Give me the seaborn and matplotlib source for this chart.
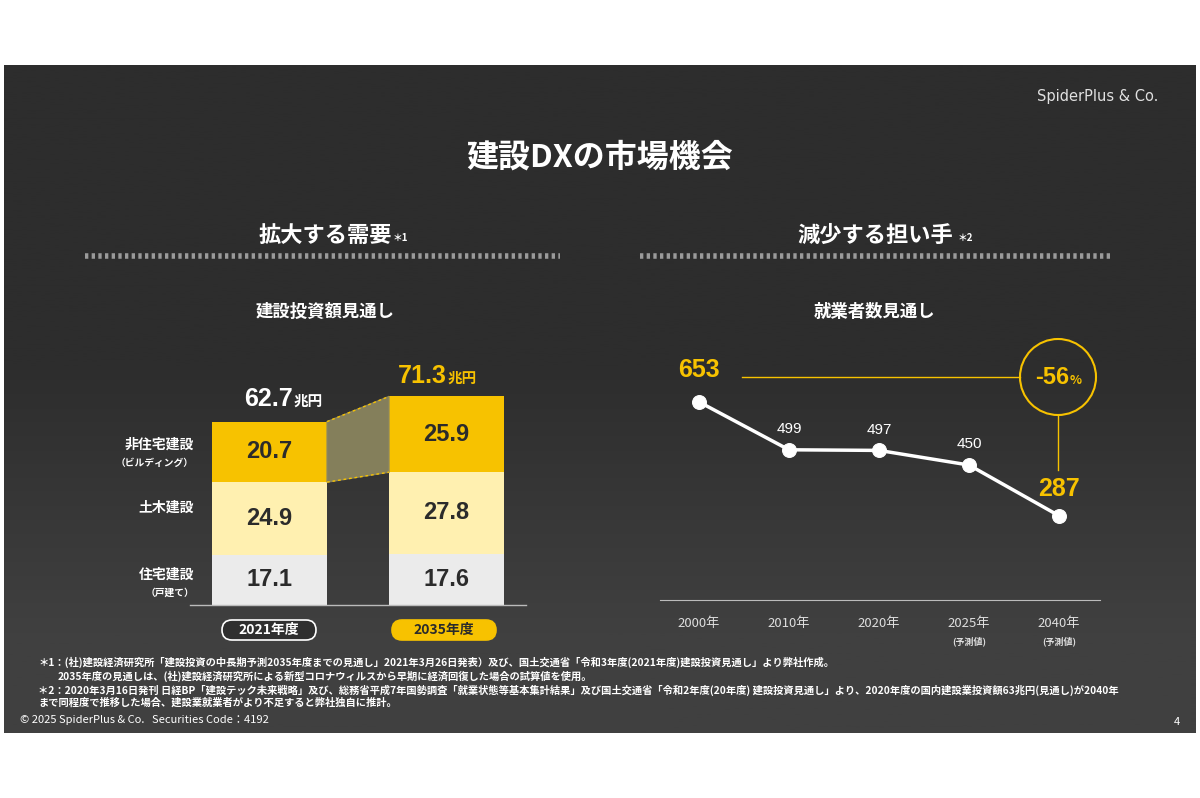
import matplotlib
matplotlib.use("Agg")
import matplotlib.pyplot as plt
import seaborn as sns
import numpy as np
import pandas as pd
from matplotlib.patches import Rectangle, Circle, FancyBboxPatch

plt.rcParams["font.family"] = "Noto Sans CJK JP"

# ---- data ----
years_bar = ["2021年度", "2035年度"]
housing = [17.1, 17.6]        # 住宅建設（戸建て）
civil = [24.9, 27.8]          # 土木建設
nonres = [20.7, 25.9]         # 非住宅建設（ビルディング）
totals = ["62.7", "71.3"]

years_line = ["2000年", "2010年", "2020年", "2025年", "2040年"]
workers = [653, 499, 497, 450, 287]
sub_labels = ["", "", "", "(予測値)", "(予測値)"]

W, H = 1200, 798
fig = plt.figure(figsize=(12, 7.98), dpi=100)
fig.patch.set_facecolor("white")

def fx(px): return px / W
def fy(py): return 1 - py / H

# dark slide background, lighter toward the bottom (city photo stand-in)
bg = fig.add_axes([0, 0, 1, 1]); bg.set_xlim(0, W); bg.set_ylim(H, 0); bg.axis("off")
grad = np.linspace(0, 1, 256)[:, None]
grad = np.clip((grad - 0.45) / 0.4, 0, 1)
bg.imshow(grad, extent=(4, 1196, 733, 65), cmap=matplotlib.colors.LinearSegmentedColormap.from_list(
    "bgc", ["#2d2d2d", "#404040"]), aspect="auto", zorder=0)
bg.set_xlim(0, W); bg.set_ylim(H, 0)

white = "white"
bg.text(1158, 97, "SpiderPlus & Co.", color="#e0e0e0", fontsize=10.5, ha="right", va="center",
        family="DejaVu Sans")
bg.text(600, 158, "建設DXの市場機会", color=white, fontsize=23, fontweight="bold", ha="center", va="center")
bg.text(325, 235, "拡大する需要", color=white, fontsize=16, fontweight="bold", ha="center", va="center")
bg.text(393, 238, "＊1", color=white, fontsize=7, fontweight="bold", ha="left", va="center")
bg.text(875, 235, "減少する担い手", color=white, fontsize=16, fontweight="bold", ha="center", va="center")
bg.text(958, 238, "＊2", color=white, fontsize=7, fontweight="bold", ha="left", va="center")
for x0, x1 in [(85, 560), (640, 1112)]:
    bg.plot([x0, x1], [256, 256], color="#9a9a9a", lw=4, ls=(0, (0.6, 0.6)))
bg.text(325, 312, "建設投資額見通し", color=white, fontsize=12.5, fontweight="bold", ha="center", va="center")
bg.text(875, 312, "就業者数見通し", color=white, fontsize=12.5, fontweight="bold", ha="center", va="center")

# ---- left: stacked bars ----
ax = fig.add_axes([fx(150), fy(605), fx(410), fy(371) - fy(605)])
ax.set_facecolor("none")
df = pd.DataFrame({"year": years_bar, "housing": housing, "civil": civil, "nonres": nonres})
bw = 0.65
sns.barplot(data=df, x="year", y="housing", color="#ebebeb", width=bw, ax=ax, saturation=1)
sns.barplot(data=df, x="year", y="civil", bottom=df["housing"], color="#fff0b0", width=bw, ax=ax, saturation=1)
mid = df["housing"] + df["civil"]
sns.barplot(data=df, x="year", y="nonres", bottom=mid, color="#f7c200", width=bw, ax=ax, saturation=1)
ax.set_xlim(-0.675, 1.641); ax.set_ylim(0, 80)
ax.axis("off")
top = mid + df["nonres"]
ax.fill([bw / 2, 1 - bw / 2, 1 - bw / 2, bw / 2], [top[0], top[1], mid[1], mid[0]],
        color="#8e8860", alpha=0.9, zorder=1)
for a, b in [(top[0], top[1]), (mid[0], mid[1])]:
    ax.plot([bw / 2, 1 - bw / 2], [a, b], color="#f7c200", lw=1, ls=(0, (2, 2)))
ax.plot([-0.45, 1.45], [0, 0], color="#bbbbbb", lw=1, clip_on=False)
for i in range(2):
    for base, v in [(0, housing[i]), (housing[i], civil[i]), (mid[i], nonres[i])]:
        ax.text(i, base + v / 2, f"{v}", ha="center", va="center", fontsize=17,
                fontweight="bold", color="#2b2b2b", family="Liberation Sans")
# totals
bg.text(293, 399, totals[0], color=white, fontsize=18, fontweight="bold", ha="right", va="center",
        family="Liberation Sans")
bg.text(294, 401, "兆円", color=white, fontsize=10.5, fontweight="bold", ha="left", va="center")
bg.text(447, 376, totals[1], color="#f7c200", fontsize=18, fontweight="bold", ha="right", va="center",
        family="Liberation Sans")
bg.text(448, 378, "兆円", color="#f7c200", fontsize=10.5, fontweight="bold", ha="left", va="center")
# category labels
for y, t, s in [(445, "非住宅建設", "（ビルディング）"), (508, "土木建設", ""), (575, "住宅建設", "（戸建て）")]:
    bg.text(194, y, t, color=white, fontsize=10, fontweight="bold", ha="right", va="center")
    if s:
        bg.text(194, y + 18, s, color=white, fontsize=7, fontweight="bold", ha="right", va="center")
# year pills
bg.add_patch(FancyBboxPatch((222, 620), 94, 20, boxstyle="round,pad=0,rounding_size=10",
                            fc="#2f2f2f", ec="white", lw=1.2))
bg.text(269, 630, years_bar[0], color=white, fontsize=10, fontweight="bold", ha="center", va="center")
bg.add_patch(FancyBboxPatch((392, 620), 104, 20, boxstyle="round,pad=0,rounding_size=10",
                            fc="#f7c200", ec="#f7c200", lw=1.2))
bg.text(444, 630, years_bar[1], color="#2b2b2b", fontsize=10, fontweight="bold", ha="center", va="center")

# ---- right: line chart ----
ax2 = fig.add_axes([fx(660), fy(600), fx(440), fy(340) - fy(600)])
ax2.set_facecolor("none")
ldf = pd.DataFrame({"year": years_line, "workers": workers})
sns.lineplot(data=ldf, x="year", y="workers", color="white", lw=2.5, marker="o", markersize=10,
             markeredgecolor="white", ax=ax2, sort=False)
ax2.set_xlim(-0.433, 4.456); ax2.set_ylim(16, 852)
for s in ["top", "right", "left"]:
    ax2.spines[s].set_visible(False)
ax2.spines["bottom"].set_color("#bbbbbb")
ax2.set_yticks([]); ax2.set_xlabel(""); ax2.set_ylabel("")
ax2.tick_params(axis="x", length=0, pad=12, colors="#dddddd", labelsize=9.5)
for i, s in enumerate(sub_labels):
    if s:
        ax2.text(i, -0.16, s, transform=ax2.get_xaxis_transform(), ha="center", va="center",
                 fontsize=6.5, color="#dddddd", fontweight="bold")
for i, v in enumerate(workers):
    if i == 0:
        ax2.annotate(f"{v}", (i, v), xytext=(0, 18), textcoords="offset points", ha="center",
                     fontsize=18, fontweight="bold", color="#f7c200", family="Liberation Sans")
    elif i == 4:
        ax2.annotate(f"{v}", (i, v), xytext=(0, 14), textcoords="offset points", ha="center",
                     fontsize=18, fontweight="bold", color="#f7c200", family="Liberation Sans")
    else:
        ax2.annotate(f"{v}", (i, v), xytext=(0, 12), textcoords="offset points", ha="center",
                     fontsize=11, color="white", family="Liberation Sans")
# -56% callout
bg.plot([742, 1020], [377, 377], color="#f7c200", lw=1)
bg.plot([1058, 1058], [415, 470], color="#f7c200", lw=1)
bg.add_patch(Circle((1058, 377), 38, fc="none", ec="#f7c200", lw=1.5))
bg.text(1052, 378, "-56", color="#f7c200", fontsize=17, fontweight="bold", ha="center", va="center",
        family="Liberation Sans")
bg.text(1070, 381, "%", color="#f7c200", fontsize=9, fontweight="bold", ha="left", va="center")

# footnotes
notes = [
    (38, 662, "＊1：(社)建設経済研究所「建設投資の中長期予測2035年度までの見通し」2021年3月26日発表）及び、国土交通省「令和3年度(2021年度)建設投資見通し」より弊社作成。"),
    (58, 676, "2035年度の見通しは、(社)建設経済研究所による新型コロナウィルスから早期に経済回復した場合の試算値を使用。"),
    (38, 690, "＊2：2020年3月16日発刊 日経BP「建設テック未来戦略」及び、総務省平成7年国勢調査「就業状態等基本集計結果」及び国土交通省「令和2年度(20年度) 建設投資見通し」より、2020年度の国内建設業投資額63兆円(見通し)が2040年"),
    (38, 703, "まで同程度で推移した場合、建設業就業者がより不足すると弊社独自に推計。"),
]
for x, y, t in notes:
    bg.text(x, y, t, color=white, fontsize=7.4, fontweight="bold", ha="left", va="center")
bg.text(20, 720, "© 2025 SpiderPlus & Co.   Securities Code：4192", color=white, fontsize=8,
        ha="left", va="center")
bg.text(1180, 722, "4", color=white, fontsize=8, ha="right", va="center")

fig.savefig("out.png", dpi=100)
